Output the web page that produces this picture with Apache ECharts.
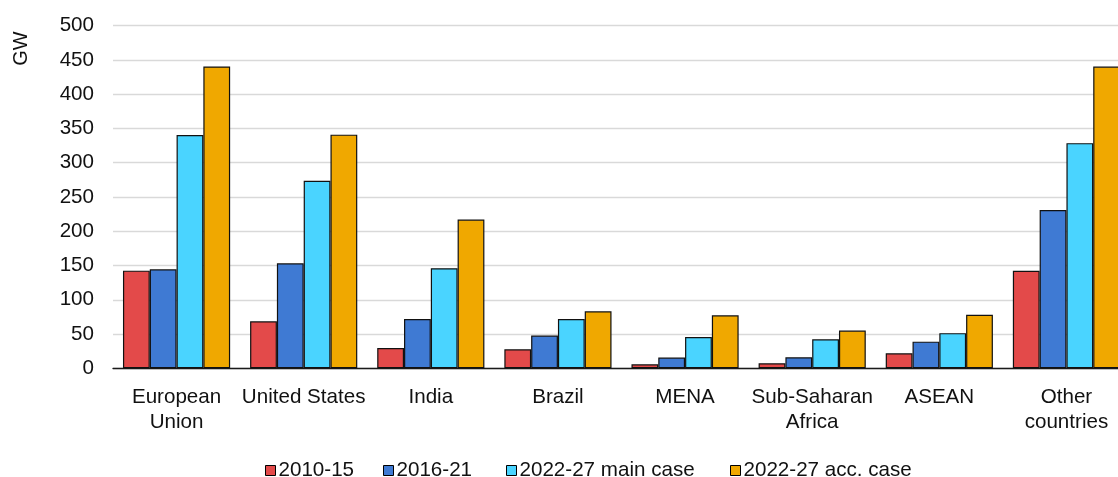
<!DOCTYPE html>
<html>
<head>
<meta charset="utf-8">
<script src="https://cdn.jsdelivr.net/npm/echarts@6/dist/echarts.min.js"></script>
<style>
html,body{margin:0;padding:0;background:#fff;overflow:hidden;width:1118px;height:477px;}
#chart{width:1130px;height:477px;}
</style>
</head>
<body>
<div id="chart"></div>
<script>
var categories = ['European\nUnion', 'United States', 'India', 'Brazil', 'MENA', 'Sub-Saharan\nAfrica', 'ASEAN', 'Other\ncountries'];
var seriesNames = ['2010-15', '2016-21', '2022-27 main case', '2022-27 acc. case'];
var s2010_15 = [142.5, 68.6, 29.7, 27.7, 5.8, 7.3, 21.9, 142.3];
var s2016_21 = [144.5, 153.2, 72, 47.7, 15.6, 16, 38.9, 231];
var s2022_27main = [340.5, 273.8, 146, 72, 45.7, 42.3, 51.3, 328.6];
var s2022_27acc = [440.5, 341, 217, 83.2, 77.3, 55, 78, 440.3];
var yTicks = [0, 50, 100, 150, 200, 250, 300, 350, 400, 450, 500];
var colors = ['#E34A4A', '#3F7AD3', '#4AD4FF', '#F0A800'];

var font = 'Liberation Sans, Arial, sans-serif';
var fs = 20.6;
var seriesData = [s2010_15, s2016_21, s2022_27main, s2022_27acc];
var legendLeft = [265, 383, 506, 730];

var chart = echarts.init(document.getElementById('chart'), null, {renderer: 'canvas'});
chart.setOption({
  animation: false,
  backgroundColor: '#ffffff',
  textStyle: {fontFamily: font},
  grid: {left: 113, top: 25.7, bottom: 108.7, right: 0, containLabel: false},
  graphic: [{
    type: 'text',
    x: 21, y: 48.5,
    rotation: Math.PI / 2,
    style: {text: 'GW', font: '20px ' + font, fill: '#111', align: 'center', verticalAlign: 'middle'}
  }],
  legend: seriesNames.map(function (name, i) {
    return {
      data: [name],
      left: legendLeft[i],
      top: 460,
      padding: 0,
      icon: 'rect',
      itemWidth: 10,
      itemHeight: 10,
      itemStyle: {borderColor: '#000', borderWidth: 1},
      textStyle: {fontSize: fs, fontFamily: font, color: '#111', padding: [0, 0, 0, -2]}
    };
  }),
  xAxis: {
    type: 'category',
    data: categories,
    axisLine: {show: true, lineStyle: {color: '#1a1a1a', width: 1.3}},
    axisTick: {show: false},
    axisLabel: {fontSize: fs, fontFamily: font, color: '#111', margin: 17, lineHeight: 25, interval: 0}
  },
  yAxis: {
    type: 'value',
    min: yTicks[0],
    max: yTicks[yTicks.length - 1],
    interval: 50,
    axisLine: {show: false},
    axisTick: {show: false},
    splitLine: {lineStyle: {color: '#d9d9d9', width: 1.3}},
    axisLabel: {fontSize: fs, fontFamily: font, color: '#111', margin: 19}
  },
  series: seriesNames.map(function (name, i) {
    return {
      name: name,
      type: 'bar',
      data: seriesData[i],
      barGap: '0%',
      barCategoryGap: '15.7%',
      itemStyle: {color: colors[i], borderColor: '#111', borderWidth: 1.2}
    };
  })
});
</script>
</body>
</html>
